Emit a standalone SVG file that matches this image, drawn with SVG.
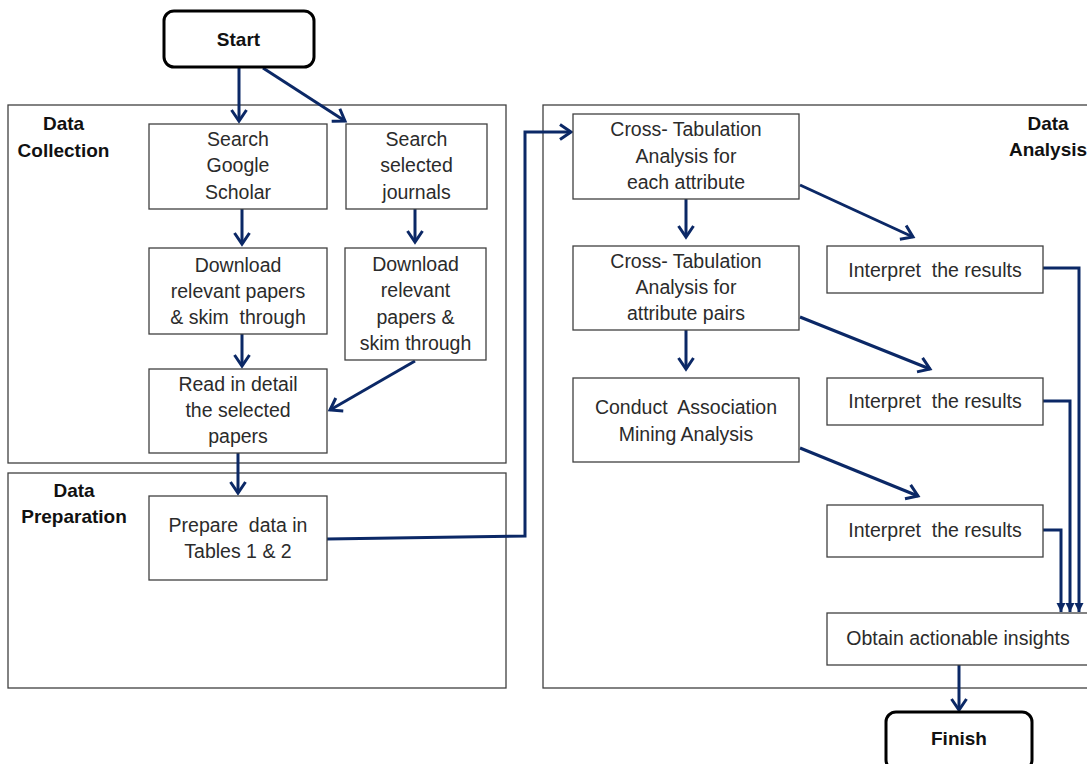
<svg xmlns="http://www.w3.org/2000/svg" width="1087" height="764" viewBox="0 0 1087 764">
<style>
.bg{fill:#ffffff}
.cont{fill:none;stroke:#404040;stroke-width:1.3}
.box{fill:#ffffff;stroke:#404040;stroke-width:1.3}
.term{fill:#ffffff;stroke:#000000;stroke-width:3}
.t{font-family:"Liberation Sans",Arial,sans-serif;font-size:19.5px;fill:#2b2b2b;text-anchor:middle}
.b{font-family:"Liberation Sans",Arial,sans-serif;font-size:19px;font-weight:bold;fill:#111111;text-anchor:middle}
.c{fill:none;stroke:#0b2866;stroke-width:3}
.c2{fill:none;stroke:#0b2866;stroke-width:3}
</style>
<defs>
<marker id="open" markerUnits="userSpaceOnUse" markerWidth="20" markerHeight="20" viewBox="-14 -10 16 20" refX="0" refY="0" orient="auto">
<path d="M-11,-7.5 L0,0 L-11,7.5" fill="none" stroke="#0b2866" stroke-width="3"/>
</marker>
<marker id="tri" markerUnits="userSpaceOnUse" markerWidth="14" markerHeight="14" viewBox="-11 -7 12 14" refX="0" refY="0" orient="auto">
<path d="M-9,-4.5 L0,0 L-9,4.5 Z" fill="#0b2866"/>
</marker>
</defs>
<rect class="bg" x="0" y="0" width="1087" height="764"/>

<g id="containers">
<rect class="cont" x="8" y="105" width="498" height="358"/>
<rect class="cont" x="8" y="473" width="498" height="215"/>
<rect class="cont" x="543" y="105" width="560" height="583"/>
<text class="b" x="63.5" y="130">Data</text>
<text class="b" x="63.5" y="157">Collection</text>
<text class="b" x="74" y="497">Data</text>
<text class="b" x="74" y="523">Preparation</text>
<text class="b" x="1048" y="130">Data</text>
<text class="b" x="1048" y="156">Analysis</text>
</g>

<g id="connectors">
<path class="c" d="M239,68 V121" marker-end="url(#open)"/>
<path class="c" d="M263,68 L345,121" marker-end="url(#open)"/>
<path class="c" d="M242,209 V244" marker-end="url(#open)"/>
<path class="c" d="M415,209 V242" marker-end="url(#open)"/>
<path class="c" d="M242,334 V366" marker-end="url(#open)"/>
<path class="c" d="M415,361 L330,410" marker-end="url(#open)"/>
<path class="c" d="M238,453 V493" marker-end="url(#open)"/>
<path class="c" d="M327,539 L525,536 L525,132 L571,132" marker-end="url(#open)"/>
<path class="c" d="M686,199 V237" marker-end="url(#open)"/>
<path class="c" d="M686,330 V369" marker-end="url(#open)"/>
<path class="c" d="M800,185 L913,237" marker-end="url(#open)"/>
<path class="c" d="M800,317 L930,369" marker-end="url(#open)"/>
<path class="c" d="M800,448 L918,496" marker-end="url(#open)"/>
<path class="c2" d="M1043,268 H1079 V612" marker-end="url(#tri)"/>
<path class="c2" d="M1043,401 H1070 V612" marker-end="url(#tri)"/>
<path class="c2" d="M1043,530 H1061 V612" marker-end="url(#tri)"/>
<path class="c" d="M959,665 V710" marker-end="url(#open)"/>
</g>

<g id="start">
<rect class="term" x="164" y="11" width="150" height="56" rx="10"/>
<text class="b" x="238.5" y="46">Start</text>
</g>

<g id="search-google-scholar">
<rect class="box" x="149" y="124" width="178" height="85"/>
<text class="t" x="238" y="146">Search</text>
<text class="t" x="238" y="172">Google</text>
<text class="t" x="238" y="199">Scholar</text>
</g>

<g id="search-journals">
<rect class="box" x="346" y="124" width="141" height="85"/>
<text class="t" x="416.5" y="146">Search</text>
<text class="t" x="416.5" y="172">selected</text>
<text class="t" x="416.5" y="199">journals</text>
</g>

<g id="download-left">
<rect class="box" x="149" y="248" width="178" height="86"/>
<text class="t" x="238" y="272">Download</text>
<text class="t" x="238" y="298">relevant papers</text>
<text class="t" x="238" y="324" xml:space="preserve">&amp; skim  through</text>
</g>

<g id="download-right">
<rect class="box" x="345" y="248" width="141" height="112"/>
<text class="t" x="415.5" y="271">Download</text>
<text class="t" x="415.5" y="297">relevant</text>
<text class="t" x="415.5" y="324">papers &amp;</text>
<text class="t" x="415.5" y="350">skim through</text>
</g>

<g id="read-detail">
<rect class="box" x="149" y="369" width="178" height="84"/>
<text class="t" x="238" y="391">Read in detail</text>
<text class="t" x="238" y="417">the selected</text>
<text class="t" x="238" y="443">papers</text>
</g>

<g id="prepare-data">
<rect class="box" x="149" y="496" width="178" height="84"/>
<text class="t" x="238" y="532" xml:space="preserve">Prepare  data in</text>
<text class="t" x="238" y="558">Tables 1 &amp; 2</text>
</g>

<g id="crosstab-each">
<rect class="box" x="573" y="114" width="226" height="85"/>
<text class="t" x="686" y="136">Cross- Tabulation</text>
<text class="t" x="686" y="163">Analysis for</text>
<text class="t" x="686" y="189">each attribute</text>
</g>

<g id="crosstab-pairs">
<rect class="box" x="573" y="246" width="226" height="84"/>
<text class="t" x="686" y="268">Cross- Tabulation</text>
<text class="t" x="686" y="294">Analysis for</text>
<text class="t" x="686" y="320">attribute pairs</text>
</g>

<g id="association-mining">
<rect class="box" x="573" y="378" width="226" height="84"/>
<text class="t" x="686" y="414" xml:space="preserve">Conduct  Association</text>
<text class="t" x="686" y="441">Mining Analysis</text>
</g>

<g id="interpret-1">
<rect class="box" x="827" y="246" width="216" height="47"/>
<text class="t" x="935" y="277" xml:space="preserve">Interpret  the results</text>
</g>

<g id="interpret-2">
<rect class="box" x="827" y="378" width="216" height="47"/>
<text class="t" x="935" y="408" xml:space="preserve">Interpret  the results</text>
</g>

<g id="interpret-3">
<rect class="box" x="827" y="505" width="216" height="52"/>
<text class="t" x="935" y="537" xml:space="preserve">Interpret  the results</text>
</g>

<g id="obtain-insights">
<rect class="box" x="827" y="613" width="280" height="52"/>
<text class="t" x="958" y="645">Obtain actionable insights</text>
</g>

<g id="finish">
<rect class="term" x="886" y="712" width="146" height="58" rx="10"/>
<text class="b" x="959" y="745">Finish</text>
</g>
</svg>
